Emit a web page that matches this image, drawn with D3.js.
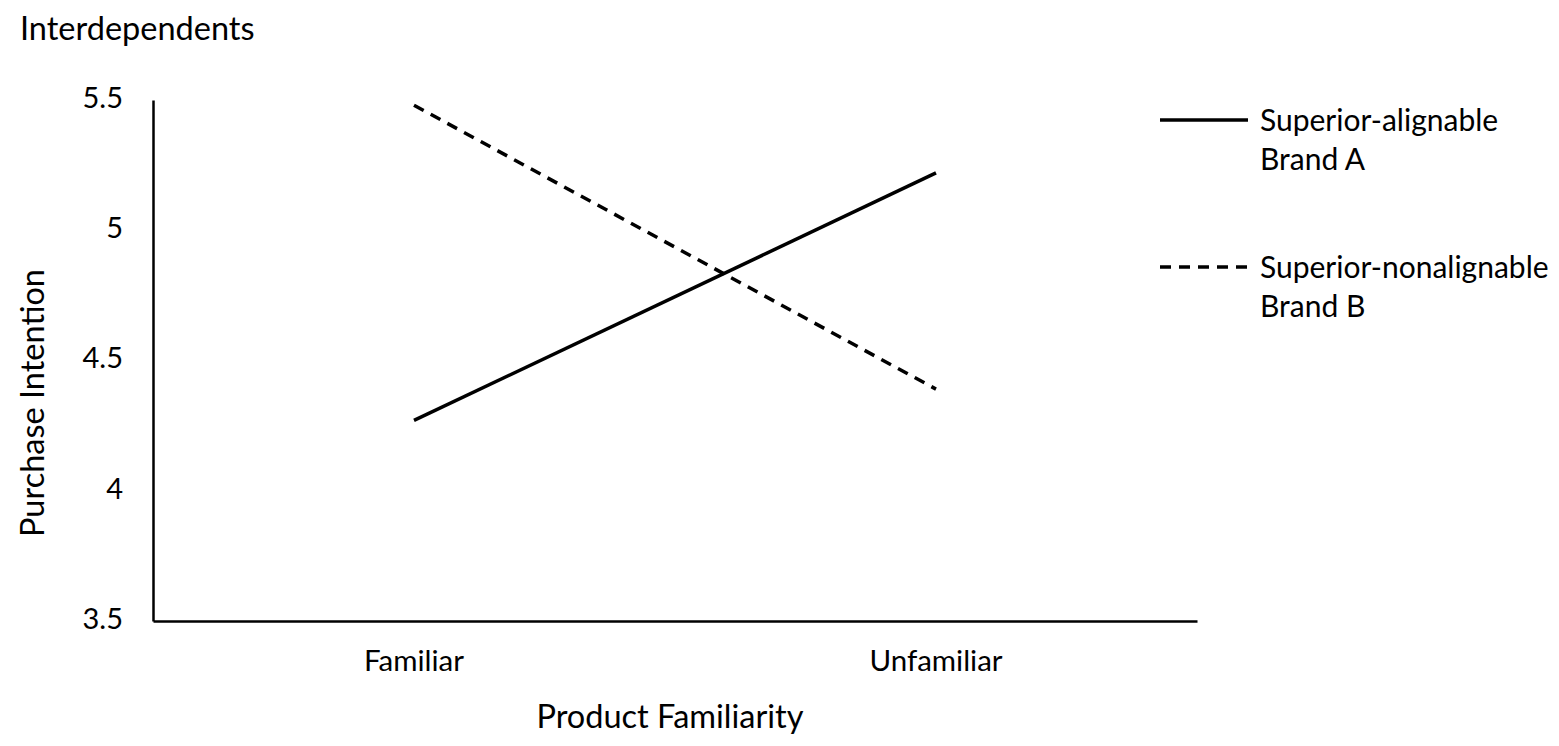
<!DOCTYPE html>
<html>
<head>
<meta charset="utf-8">
<script src="https://cdn.jsdelivr.net/npm/d3@7"></script>
<style>
  body { margin: 0; background: #fff; }
  text { font-family: Lato, "Open Sans", sans-serif; fill: #000; }
</style>
</head>
<body>
<div class="area"></div>
<script>
const width = 1559
const height = 746
const margin = {top: 100, right: 362, bottom: 125, left: 153}

const categories = ["Familiar", "Unfamiliar"]
const brandA = [4.27, 5.22]   // Superior-alignable
const brandB = [5.48, 4.39]   // Superior-nonalignable
const yTicks = [3.5, 4, 4.5, 5, 5.5]
const seriesNames = [["Superior-alignable", "Brand A"], ["Superior-nonalignable", "Brand B"]]

const svg = d3.select(".area")
  .append("svg")
  .attr("width", width)
  .attr("height", height)
  .attr("viewBox", [0, 0, width, height])

const x = d3.scaleBand()
  .domain(categories)
  .range([margin.left, width - margin.right])
  .padding(0)

const y = d3.scaleLinear()
  .domain([3.5, 5.5])
  .range([height - margin.bottom, margin.top])

// axes
const xAxis = svg.append("g")
  .attr("transform", `translate(0, ${height - margin.bottom})`)
  .call(d3.axisBottom(x).tickSize(0).tickSizeOuter(0).tickPadding(29))
xAxis.select(".domain").attr("stroke", "#000").attr("stroke-width", 2.5)
xAxis.selectAll("text").attr("font-size", 29.5).attr("font-family", "Lato")

const yAxis = svg.append("g")
  .attr("transform", `translate(${margin.left}, 0)`)
  .call(d3.axisLeft(y).tickValues(yTicks).tickFormat(d3.format("")).tickSize(0).tickSizeOuter(0).tickPadding(30))
yAxis.select(".domain").attr("stroke", "#000").attr("stroke-width", 2.5)
yAxis.selectAll("text").attr("font-size", 29).attr("font-family", "Lato").attr("dy", "0.25em")

const line = d3.line()
  .x((d, i) => x(categories[i]) + x.bandwidth() / 2)
  .y(d => y(d))

svg.append("path")
  .datum(brandA)
  .attr("fill", "none")
  .attr("stroke", "#000")
  .attr("stroke-width", 3.5)
  .attr("d", line)

svg.append("path")
  .datum(brandB)
  .attr("fill", "none")
  .attr("stroke", "#000")
  .attr("stroke-width", 3.5)
  .attr("stroke-dasharray", "11,8")
  .attr("d", line)

// titles
svg.append("text")
  .attr("x", 20)
  .attr("y", 40)
  .attr("font-size", 32.5)
  .text("Interdependents")

svg.append("text")
  .attr("x", 670)
  .attr("y", 728)
  .attr("text-anchor", "middle")
  .attr("font-size", 32.5)
  .text("Product Familiarity")

svg.append("text")
  .attr("transform", `translate(44, 403) rotate(-90)`)
  .attr("text-anchor", "middle")
  .attr("font-size", 32.5)
  .text("Purchase Intention")

// legend
const legend = svg.append("g")
const legendY = [120, 267]
seriesNames.forEach((name, i) => {
  legend.append("line")
    .attr("x1", 1160).attr("x2", 1248)
    .attr("y1", legendY[i]).attr("y2", legendY[i])
    .attr("stroke", "#000")
    .attr("stroke-width", 3.5)
    .attr("stroke-dasharray", i === 1 ? "11,8" : null)
  const t = legend.append("text")
    .attr("x", 1260)
    .attr("y", legendY[i] + 11)
    .attr("font-size", 30)
  t.append("tspan").attr("x", 1260).text(name[0])
  t.append("tspan").attr("x", 1260).attr("dy", 39).text(name[1])
})
</script>
</body>
</html>
